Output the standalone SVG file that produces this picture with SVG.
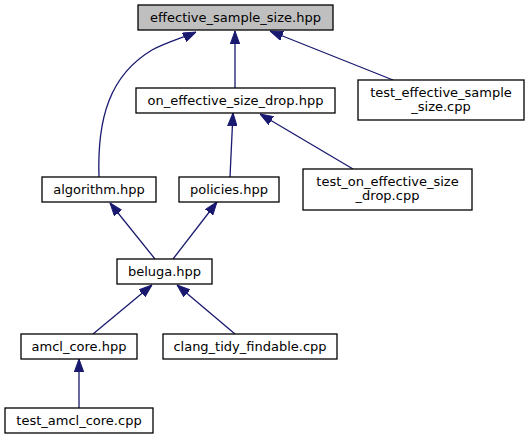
<svg xmlns="http://www.w3.org/2000/svg" width="531" height="440" viewBox="0 0 531 440">
<style>
.box{fill:#ffffff;stroke:#000000;stroke-width:1.3}
.root{fill:#bfbfbf}
.lbl{font-family:"DejaVu Sans",sans-serif;font-size:13px;fill:#000000;text-anchor:middle}
.edge{fill:none;stroke:#191970;stroke-width:1.3;marker-end:url(#arr)}
</style>
<defs>
<marker id="arr" viewBox="0 0 13 10" refX="13" refY="5" markerWidth="13" markerHeight="10" markerUnits="userSpaceOnUse" orient="auto">
<path d="M0,0.3 L13,5 L0,9.7 z" fill="#191970" stroke="#191970" stroke-width="1"/>
</marker>
</defs>
<rect width="531" height="440" fill="#ffffff"/>
<g id="connectors">
<path class="edge" d="M99,177 C97,118 110,75 152,50 C167,42 185,37 196,32"/>
<line class="edge" x1="235" y1="88" x2="235" y2="31"/>
<line class="edge" x1="393" y1="80" x2="270" y2="31"/>
<line class="edge" x1="230" y1="177" x2="233" y2="113"/>
<line class="edge" x1="353" y1="169" x2="260" y2="114"/>
<line class="edge" x1="155" y1="259" x2="110" y2="203"/>
<line class="edge" x1="173" y1="259" x2="217" y2="202"/>
<line class="edge" x1="93" y1="334" x2="152" y2="285"/>
<line class="edge" x1="235" y1="334" x2="177" y2="285"/>
<line class="edge" x1="79" y1="408" x2="79" y2="359"/>
</g>
<g id="node_effective_sample_size">
<rect class="box root" x="138" y="5" width="195" height="25"/>
<text class="lbl" x="235.5" y="22">effective_sample_size.hpp</text>
</g>
<g id="node_on_effective_size_drop">
<rect class="box" x="136" y="88" width="199" height="25"/>
<text class="lbl" x="235.5" y="105">on_effective_size_drop.hpp</text>
</g>
<g id="node_test_effective_sample_size">
<rect class="box" x="358" y="80" width="166" height="40"/>
<text class="lbl" x="441" y="97">test_effective_sample</text>
<text class="lbl" x="441" y="111">_size.cpp</text>
</g>
<g id="node_algorithm">
<rect class="box" x="42" y="177" width="114" height="25"/>
<text class="lbl" x="99" y="194">algorithm.hpp</text>
</g>
<g id="node_policies">
<rect class="box" x="179" y="177" width="100" height="25"/>
<text class="lbl" x="229" y="194">policies.hpp</text>
</g>
<g id="node_test_on_effective_size_drop">
<rect class="box" x="303" y="169" width="169" height="41"/>
<text class="lbl" x="387.5" y="186">test_on_effective_size</text>
<text class="lbl" x="387.5" y="200">_drop.cpp</text>
</g>
<g id="node_beluga">
<rect class="box" x="117" y="259" width="95" height="25"/>
<text class="lbl" x="164.5" y="276">beluga.hpp</text>
</g>
<g id="node_amcl_core">
<rect class="box" x="21" y="334" width="116" height="25"/>
<text class="lbl" x="79" y="351">amcl_core.hpp</text>
</g>
<g id="node_clang_tidy_findable">
<rect class="box" x="163" y="334" width="174" height="25"/>
<text class="lbl" x="250" y="351">clang_tidy_findable.cpp</text>
</g>
<g id="node_test_amcl_core">
<rect class="box" x="5" y="408" width="148" height="25"/>
<text class="lbl" x="79" y="425">test_amcl_core.cpp</text>
</g>
</svg>
